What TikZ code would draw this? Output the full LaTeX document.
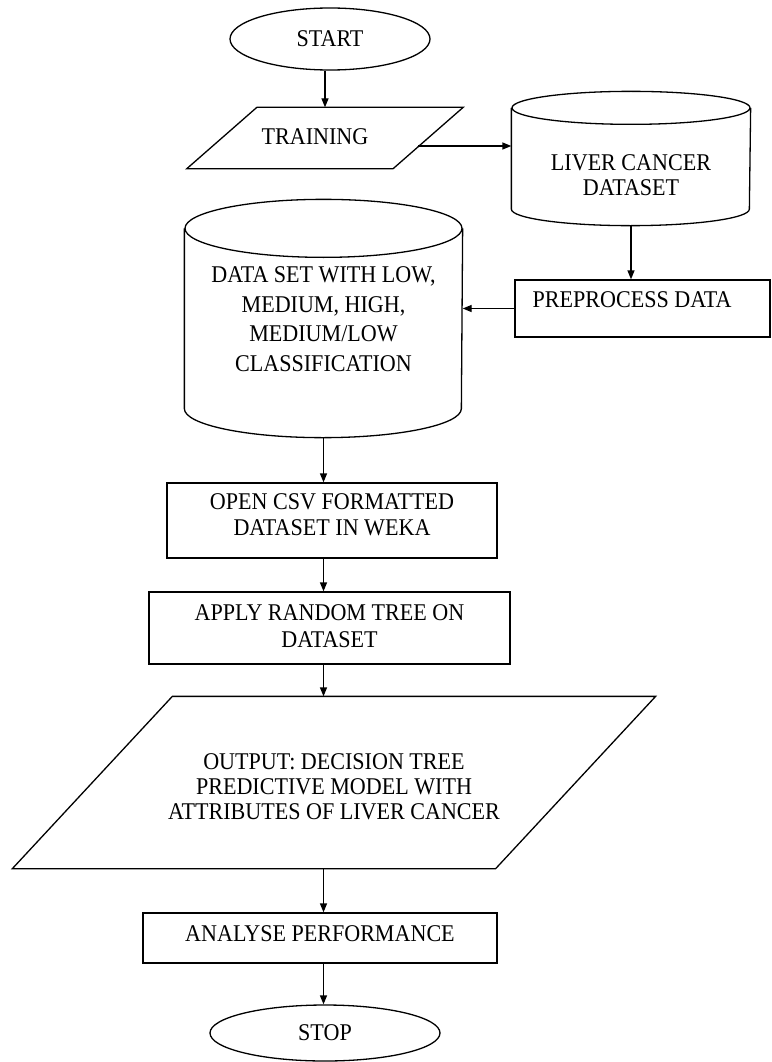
\documentclass[tikz,border=0pt]{standalone}
\usepackage{fontspec}
\setmainfont{Liberation Serif}[FakeStretch=0.92]
\usetikzlibrary{shapes.geometric,arrows.meta,calc}
\begin{document}
\begin{tikzpicture}[x=1pt,y=-1pt,line width=1.3pt,
  arr/.style={-{Triangle[length=9pt,width=7pt]}},
  txt/.style={font=\fontsize{24}{27}\selectfont,align=center,inner sep=0pt},
  term/.style={ellipse,draw,inner sep=0pt,font=\fontsize{24}{27}\selectfont},
  frame/.style={rectangle,inner sep=0pt},
  boxed/.style={rectangle,draw,inner sep=0pt}]
\useasboundingbox (0,0) rectangle (771,1062);

% START
\node[term,minimum width=200pt,minimum height=62pt] (start) at (330,39) {START};

% TRAINING parallelogram
\node[frame,minimum width=205pt,minimum height=60pt] (train) at (325,138) {};
\draw ($(train.north west)+(35,0)$) -- ($(train.north east)+(35,0)$)
      -- ($(train.south east)+(-35,0)$) -- ($(train.south west)+(-35,0)$) -- cycle;
\node[txt] (traint) at (315,137) {TRAINING};
\coordinate (trainR) at (418,146);

% LIVER CANCER DATASET cylinder
\node[frame,minimum width=238pt,minimum height=133pt] (liver) at (631,158.5) {};
\draw ($(liver.north)+(0,16.5)$) ellipse [x radius=119pt,y radius=16.5pt];
\draw ($(liver.north west)+(0,16.5)$) -- ($(liver.south west)+(0,-16.5)$)
      arc[start angle=180,end angle=360,x radius=119pt,y radius=16.5pt]
      -- ($(liver.north east)+(0,16.5)$);
\node[txt,font=\fontsize{24}{25}\selectfont] (livert) at (631,175) {LIVER CANCER\\DATASET};

% PREPROCESS DATA
\node[boxed,minimum width=255pt,minimum height=57pt] (prep) at (642.5,308.5) {};
\node[txt,anchor=west] (prept) at (532,300) {PREPROCESS DATA};

% DATA SET cylinder
\node[frame,minimum width=277pt,minimum height=237pt] (data) at (323.5,318.5) {};
\draw ($(data.north)+(0,29)$) ellipse [x radius=138.5pt,y radius=29pt];
\draw ($(data.north west)+(0,29)$) -- ($(data.south west)+(0,-29)$)
      arc[start angle=180,end angle=360,x radius=138.5pt,y radius=29pt]
      -- ($(data.north east)+(0,29)$);
\node[txt,font=\fontsize{24}{29.5}\selectfont] (datat) at (323.5,319)
  {DATA SET WITH LOW,\\MEDIUM, HIGH,\\MEDIUM/LOW\\CLASSIFICATION};

% OPEN CSV
\node[boxed,minimum width=330pt,minimum height=75pt] (csv) at (332,520.5) {};
\node[txt,font=\fontsize{24}{26}\selectfont] (csvt) at (332,515) {OPEN CSV FORMATTED\\DATASET IN WEKA};

% APPLY RANDOM TREE
\node[boxed,minimum width=361pt,minimum height=72pt] (apply) at (329.5,628) {};
\node[txt,font=\fontsize{24}{27}\selectfont] (applyt) at (329.5,626) {APPLY RANDOM TREE ON\\DATASET};

% OUTPUT parallelogram
\node[frame,minimum width=482pt,minimum height=171pt] (out) at (334,782.5) {};
\draw ($(out.north west)+(80,0)$) -- ($(out.north east)+(80,0)$)
      -- ($(out.south east)+(-80,0)$) -- ($(out.south west)+(-80,0)$) -- cycle;
\node[txt,font=\fontsize{24}{25}\selectfont] (outt) at (334,787)
  {OUTPUT: DECISION TREE\\PREDICTIVE MODEL WITH\\ATTRIBUTES OF LIVER CANCER};

% ANALYSE PERFORMANCE
\node[boxed,minimum width=354pt,minimum height=50pt] (analyse) at (320,938) {};
\node[txt] (analyset) at (320,934) {ANALYSE PERFORMANCE};

% STOP
\node[term,minimum width=230pt,minimum height=56pt] (stop) at (325,1033) {STOP};

% connectors
\draw[arr] (start.south -| train.north) -- (train.north);
\draw[arr] (trainR) -- (trainR -| liver.west);
\draw[arr] (liver.south) -- (liver.south |- prep.north);
\draw[arr] (prep.west) -- (prep.west -| data.east);
\draw[arr] (data.south) -- (data.south |- csv.north);
\draw[arr] (csv.south -| data.south) -- (apply.north -| data.south);
\draw[arr] (apply.south -| data.south) -- (out.north -| data.south);
\draw[arr] (out.south -| data.south) -- (analyse.north -| data.south);
\draw[arr] (analyse.south -| data.south) -- (stop.north -| data.south);
\end{tikzpicture}
\end{document}
